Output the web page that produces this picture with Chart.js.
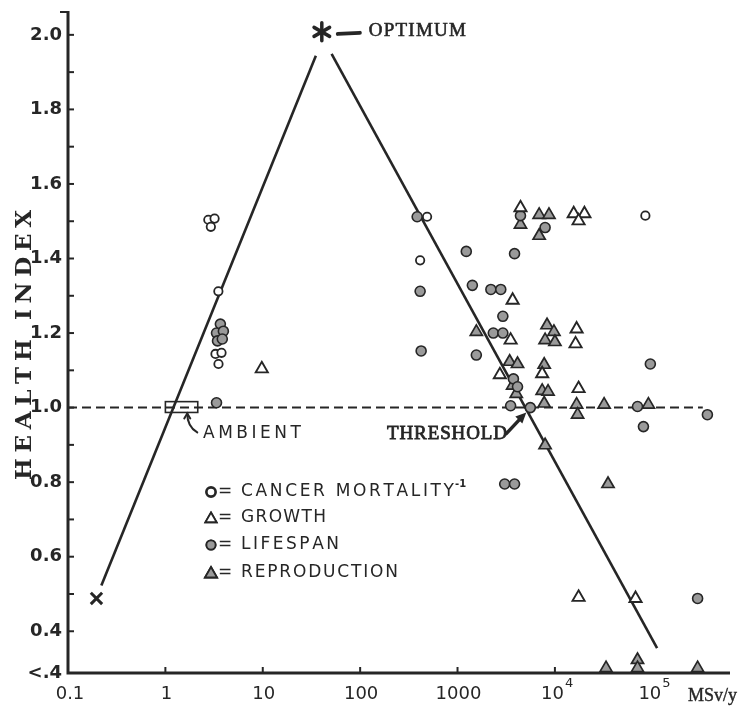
<!DOCTYPE html>
<html><head><meta charset="utf-8">
<script src="https://cdn.jsdelivr.net/npm/chart.js@4/dist/chart.umd.min.js"></script>
<style>html,body{margin:0;padding:0;background:#fff;}canvas{display:block;}</style>
</head><body>
<canvas id="c" width="741" height="706" style="width:741px;height:706px"></canvas>
<script>
// ---- data (dose in mSv/y, health index) ----
const cancerMortality = [
  {x:2.76,y:1.504},{x:3.2,y:1.507},{x:2.93,y:1.485},{x:3.5,y:1.312},
  {x:3.27,y:1.144},{x:3.77,y:1.147},{x:3.51,y:1.117},
  {x:487,y:1.512},{x:413,y:1.395},{x:84900,y:1.515}
];
const growth = [
  {x:9.77,y:1.104},{x:3680,y:1.288},{x:3510,y:1.181},{x:2720,y:1.088},
  {x:4430,y:1.536},{x:15600,y:1.52},{x:20100,y:1.52},{x:17500,y:1.501},
  {x:16700,y:1.211},{x:16300,y:1.171},{x:17500,y:1.051},{x:7400,y:1.091},
  {x:17500,y:0.491},{x:67300,y:0.488}
];
const lifespan = [
  {x:3.67,y:1.224},{x:3.35,y:1.2},{x:3.94,y:1.205},{x:3.43,y:1.179},{x:3.84,y:1.184},
  {x:3.35,y:1.013},{x:385,y:1.512},{x:413,y:1.312},{x:423,y:1.152},
  {x:1230,y:1.419},{x:3850,y:1.413},{x:1420,y:1.328},{x:2200,y:1.317},{x:2780,y:1.317},
  {x:2920,y:1.245},{x:2330,y:1.2},{x:2920,y:1.2},{x:1560,y:1.141},
  {x:4430,y:1.515},{x:7930,y:1.483},{x:95500,y:1.117},
  {x:3750,y:1.077},{x:4130,y:1.056},{x:3510,y:1.005},{x:5590,y:1.0},
  {x:70500,y:1.003},{x:81100,y:0.949},{x:368000,y:0.981},
  {x:3050,y:0.795},{x:3850,y:0.795},{x:292000,y:0.488}
];
const reproduction = [
  {x:4430,y:1.491},{x:6890,y:1.517},{x:8690,y:1.517},{x:6890,y:1.461},
  {x:1560,y:1.203},{x:3430,y:1.123},{x:4130,y:1.117},{x:4010,y:1.037},{x:3680,y:1.059},
  {x:8300,y:1.221},{x:9770,y:1.203},{x:7930,y:1.181},{x:10000,y:1.176},
  {x:7760,y:1.115},{x:7400,y:1.045},{x:8500,y:1.043},{x:7760,y:1.011},
  {x:16700,y:1.008},{x:17100,y:0.981},{x:32000,y:1.008},{x:91200,y:1.008},
  {x:7930,y:0.899},{x:35100,y:0.795},
  {x:33500,y:0.301},{x:70500,y:0.323},{x:70500,y:0.301},{x:292000,y:0.301}
];
const lethalPoint = [{x:0.196,y:0.488}];
const optimumPoint = [{x:40.4,y:2.008}];
const risingLine = [{x:0.22,y:0.523},{x:35.1,y:1.944}];
const fallingLine = [{x:50.9,y:1.949},{x:112000,y:0.355}];
const ambientLevel = [{x:0.1,y:1.0},{x:330000,y:1.0}];
const ambientBox = {x0:1.0, x1:2.15, y0:0.987, y1:1.016};
const thresholdPoint = {x:5590, y:1.0};

const xTickValues = [0.1,1,10,100,1000,10000,100000];
const xTickLabels = ['0.1','1','10','100','1000','10','10'];
const xTickSup = ['','','','','','4','5'];
const yTickValues = [2.0,1.8,1.6,1.4,1.2,1.0,0.8,0.6,0.4];
const yTickLabels = ['2.0','1.8','1.6','1.4','1.2','1.0','0.8','0.6','0.4'];
const yMinorValues = [2.0,1.9,1.8,1.7,1.6,1.5,1.4,1.3,1.2,1.1,1.0,0.9,0.8,0.7,0.6,0.5,0.4];
const legendNames = ['CANCER MORTALITY','GROWTH','LIFESPAN','REPRODUCTION'];

const INK = '#262626';
const SHADE = '#9a9a9a';

function spaced(ctx, text, x, y, width, strokeW) {
  const chars = [...text];
  const w = chars.map(c => ctx.measureText(c).width);
  const tot = w.reduce((a,b)=>a+b,0);
  const gap = chars.length > 1 ? (width - tot)/(chars.length-1) : 0;
  let cx = x;
  ctx.textAlign = 'left';
  chars.forEach((c,i)=>{
    ctx.fillText(c, cx, y);
    if (strokeW) { ctx.lineWidth = strokeW; ctx.strokeText(c, cx, y); }
    cx += w[i] + gap;
  });
}

const drawPlugin = {
  id: 'drawPlugin',
  beforeDatasetsDraw(chart) {
    const {ctx, chartArea: a, scales: {x, y}} = chart;
    ctx.save();
    ctx.strokeStyle = INK; ctx.lineWidth = 3;
    ctx.beginPath(); ctx.moveTo(a.left, a.top); ctx.lineTo(a.left, a.bottom); ctx.lineTo(a.right, a.bottom); ctx.stroke();
    ctx.lineWidth = 2;
    yMinorValues.forEach(v => { const py = y.getPixelForValue(v); ctx.beginPath(); ctx.moveTo(a.left, py); ctx.lineTo(a.left + 6, py); ctx.stroke(); });
    ctx.beginPath(); ctx.moveTo(a.left - 8, a.top + 1); ctx.lineTo(a.left, a.top + 1); ctx.stroke();
    xTickValues.slice(1,6).forEach(v => { const px = x.getPixelForValue(v); ctx.beginPath(); ctx.moveTo(px, a.bottom); ctx.lineTo(px, a.bottom - 6); ctx.stroke(); });
    // ambient box
    const bx0 = x.getPixelForValue(ambientBox.x0), bx1 = x.getPixelForValue(ambientBox.x1);
    const by0 = y.getPixelForValue(ambientBox.y0), by1 = y.getPixelForValue(ambientBox.y1);
    ctx.lineWidth = 1.6;
    ctx.strokeRect(bx0, by1, bx1 - bx0, by0 - by1);
    ctx.restore();
  },
  afterDraw(chart) {
    const {ctx, chartArea: a, scales: {x, y}} = chart;
    ctx.save();
    ctx.fillStyle = INK; ctx.strokeStyle = INK;
    // y tick labels
    ctx.font = 'bold 18px "DejaVu Sans"';
    ctx.textAlign = 'right'; ctx.textBaseline = 'middle';
    yTickValues.forEach((v,i) => ctx.fillText(yTickLabels[i], 62, y.getPixelForValue(v)));
    ctx.fillText('<.4', 62, a.bottom);
    // x tick labels
    ctx.textBaseline = 'middle';
    xTickValues.forEach((v,i) => {
      const px = x.getPixelForValue(v);
      if (xTickSup[i]) {
        ctx.textAlign = 'right';
        ctx.font = '18px "DejaVu Sans"';
        ctx.fillText(xTickLabels[i], px + 9, 694);
        ctx.font = '13px "DejaVu Sans"';
        ctx.textAlign = 'left';
        ctx.fillText(xTickSup[i], px + 10, 684);
      } else {
        ctx.textAlign = 'center';
        ctx.font = '18px "DejaVu Sans"';
        ctx.fillText(xTickLabels[i], px + (i === 0 ? 2 : 1), 694);
      }
    });
    ctx.font = '18px "Liberation Serif"';
    ctx.textAlign = 'left';
    ctx.fillText('MSv/y', 688, 696);
    ctx.lineWidth = 0.4; ctx.strokeText('MSv/y', 688, 696);
    // y axis title
    ctx.save();
    ctx.translate(25, 345);
    ctx.rotate(-Math.PI/2);
    ctx.font = 'bold 23px "DejaVu Serif"';
    ctx.textBaseline = 'middle';
    spaced(ctx, 'HEALTH INDEX', -135, 0, 270);
    ctx.restore();
    // optimum star
    const sx = x.getPixelForValue(optimumPoint[0].x), sy = y.getPixelForValue(optimumPoint[0].y);
    ctx.lineWidth = 3.5; ctx.lineCap = 'round';
    for (let k = 0; k < 3; k++) {
      const ang = Math.PI/2 + k*Math.PI/3;
      ctx.beginPath();
      ctx.moveTo(sx - 9*Math.cos(ang), sy - 9*Math.sin(ang));
      ctx.lineTo(sx + 9*Math.cos(ang), sy + 9*Math.sin(ang));
      ctx.stroke();
    }
    ctx.lineWidth = 4; ctx.lineCap = 'round';
    ctx.beginPath(); ctx.moveTo(sx + 16, sy + 2); ctx.lineTo(sx + 38, sy + 1); ctx.stroke();
    ctx.font = '19px "Liberation Serif"'; ctx.textBaseline = 'middle';
    spaced(ctx, 'OPTIMUM', sx + 47, sy - 1, 97, 0.6);
    // ambient label
    const bx = x.getPixelForValue(1.6), by = y.getPixelForValue(ambientBox.y0);
    ctx.lineWidth = 2; ctx.lineCap = 'round';
    ctx.beginPath(); ctx.moveTo(bx + 2, by + 1); ctx.quadraticCurveTo(bx + 2, by + 14, bx + 12, by + 20); ctx.stroke();
    ctx.beginPath(); ctx.moveTo(bx - 1, by + 6); ctx.lineTo(bx + 2, by + 1); ctx.lineTo(bx + 5, by + 6); ctx.stroke();
    ctx.font = '17px "DejaVu Sans"'; ctx.textBaseline = 'middle';
    spaced(ctx, 'AMBIENT', 203, 434, 98);
    // threshold label + arrow
    const tx = x.getPixelForValue(thresholdPoint.x), ty = y.getPixelForValue(thresholdPoint.y);
    ctx.font = '19px "Liberation Serif"';
    spaced(ctx, 'THRESHOLD', 387, 434, 120, 0.8);
    ctx.lineWidth = 3.5; ctx.lineCap = 'round';
    ctx.beginPath(); ctx.moveTo(tx - 24, ty + 26); ctx.lineTo(tx - 9, ty + 10); ctx.stroke();
    ctx.beginPath(); ctx.moveTo(tx - 4, ty + 5); ctx.lineTo(tx - 15, ty + 9); ctx.lineTo(tx - 8, ty + 16); ctx.closePath(); ctx.fill();
    // legend
    const rows = [492, 518, 545, 573];
    const widths = [213, 85, 98, 157];
    const styles = ['circle','triangle','circle','triangle'];
    const fills = ['#fff','#fff',SHADE,SHADE];
    const radii = [4.2, 6.5, 4.6, 7];
    rows.forEach((ry,i) => {
      Chart.helpers.drawPoint(ctx, {pointStyle: styles[i], radius: radii[i], borderWidth: 1.8}, 211, ry + (styles[i]==='triangle'?1:0));
      ctx.fillStyle = fills[i]; ctx.strokeStyle = INK; ctx.lineWidth = 1.8;
      ctx.fill(); ctx.stroke();
      ctx.fillStyle = INK;
      ctx.font = '17px "DejaVu Sans"'; ctx.textBaseline = 'middle';
      ctx.textAlign = 'left';
      ctx.fillText('=', 218, ry);
      spaced(ctx, legendNames[i], 241, ry, widths[i]);
    });
    ctx.font = 'bold 10px "DejaVu Sans"';
    ctx.fillText('-1', 455, 484);
    ctx.restore();
  }
};

const pt = (data, style, radius, fill, bw) => ({
  data, pointStyle: style, pointRadius: radius, pointHoverRadius: radius,
  pointBackgroundColor: fill, pointBorderColor: INK, pointBorderWidth: bw,
  showLine: false, clip: false
});
const ln = (data, dash) => ({
  data, showLine: true, pointRadius: 0, borderColor: INK, borderWidth: dash ? 2 : 2.6,
  borderDash: dash || [], clip: false, fill: false
});

new Chart(document.getElementById('c'), {
  type: 'scatter',
  data: { datasets: [
    pt(cancerMortality, 'circle', 4.2, '#ffffff', 1.8),
    pt(growth, 'triangle', 7, '#ffffff', 1.9),
    pt(lifespan, 'circle', 5, SHADE, 1.6),
    pt(reproduction, 'triangle', 7, SHADE, 1.7),
    pt(lethalPoint, 'crossRot', 8, '#ffffff', 3),
    ln(risingLine), ln(fallingLine), ln(ambientLevel, [9,5])
  ]},
  options: {
    responsive: false, animation: false, devicePixelRatio: 1,
    layout: { padding: { left: 68, right: 0, top: 7, bottom: 33 } },
    scales: {
      x: { type: 'logarithmic', min: 0.1, max: 628000, display: false },
      y: { type: 'linear', min: 0.288, max: 2.064, display: false }
    },
    plugins: { legend: { display: false }, tooltip: { enabled: false } },
    events: []
  },
  plugins: [drawPlugin]
});
</script></body></html>
